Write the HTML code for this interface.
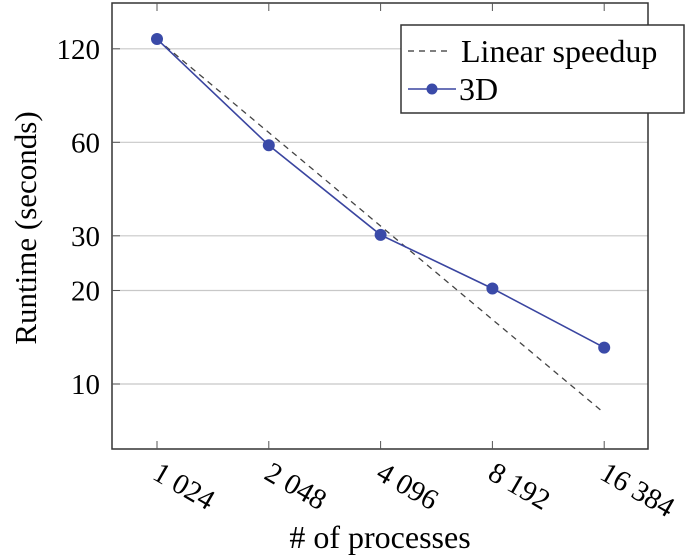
<!DOCTYPE html>
<html><head><meta charset="utf-8"><style>
html,body{margin:0;padding:0;background:#fff;}
svg{display:block;font-family:"Liberation Serif",serif;}
</style></head><body>
<svg id="chart" width="685" height="559">
<g id="grid"></g>
<rect x="112" y="3" width="536" height="446" fill="none" stroke="#333" stroke-width="1.5"/>
<g id="ticks"></g>
<g id="series"></g>
<text x="36" y="228" font-size="31" text-anchor="middle" transform="rotate(-90 36 228)">Runtime (seconds)</text>
<text x="380" y="548" font-size="32" text-anchor="middle"># of processes</text>
<g>
<rect x="401" y="25" width="283" height="88" fill="#fff" stroke="#333" stroke-width="1.5"/>
<line x1="408" y1="51" x2="452" y2="51" stroke="#333" stroke-width="1.3" stroke-dasharray="6,5"/>
<text x="461" y="62" font-size="32">Linear speedup</text>
<line x1="408" y1="89" x2="456" y2="89" stroke="#3a45a0" stroke-width="1.5"/>
<circle cx="432" cy="89" r="5.5" fill="#3a4aa8"/>
<text x="459" y="100" font-size="32">3D</text>
</g>
</svg>
<script>
const procs=[1024,2048,4096,8192,16384];
const xLabels=["1 024","2 048","4 096","8 192","16 384"];
const runtime3d=[129,58.7,30.2,20.3,13.1];
const linearStart=129;
const yTicks=[10,20,30,60,120];
const NS='http://www.w3.org/2000/svg';
function xs(p){return 157+111.8*Math.log2(p/1024);}
function ys(v){return 384-93.5*Math.log2(v/10);}
function mk(t,a,parent){const e=document.createElementNS(NS,t);for(const k in a)e.setAttribute(k,a[k]);document.getElementById(parent).appendChild(e);return e;}
yTicks.forEach(v=>{
 let l=mk('line',{x1:112,x2:648,y1:ys(v),y2:ys(v),stroke:'#c8c8c8','stroke-width':1.2},'grid');
 
 
 let t=mk('text',{x:100,y:ys(v)+10,'font-size':29,'text-anchor':'end'},'ticks');
 t.textContent=v;
 
 
 let a=mk('line',{x1:112,x2:120,y1:ys(v),y2:ys(v),stroke:'#555'},'ticks');
 
 
});
procs.forEach((p,i)=>{
 let a=mk('line',{x1:xs(p),x2:xs(p),y1:449,y2:441,stroke:'#555'},'ticks');
 
 
 let b=mk('line',{x1:xs(p),x2:xs(p),y1:3,y2:11,stroke:'#555'},'ticks');
 
 
 let t=mk('text',{x:xs(p)-6,y:478,'font-size':29,transform:`rotate(30 ${xs(p)-6} 478)`},'ticks');
 t.textContent=xLabels[i];
 
 
});
const lin=mk('line',{x1:xs(procs[0]),y1:ys(linearStart),x2:xs(procs[4]),y2:ys(linearStart*procs[0]/procs[4]),stroke:'#444','stroke-width':1.3,'stroke-dasharray':'6,5'},'series');


const pl=mk('polyline',{points:procs.map((p,i)=>xs(p)+','+ys(runtime3d[i])).join(' '),fill:'none',stroke:'#3a45a0','stroke-width':1.6},'series');


procs.forEach((p,i)=>{
 let c=mk('circle',{cx:xs(p),cy:ys(runtime3d[i]),r:6,fill:'#3a4aa8'},'series');
 
 
});
</script>
</body></html>
